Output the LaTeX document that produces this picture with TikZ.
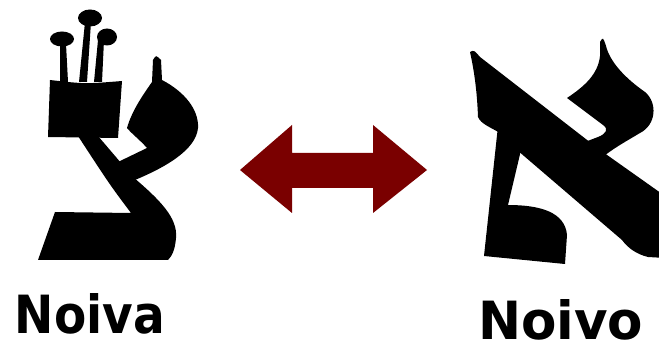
\documentclass[tikz,border=0pt]{standalone}
\usepackage{fontspec}
\usepackage{graphicx}
\newfontfamily\lblfont{DejaVu Sans}
\definecolor{arrowred}{RGB}{122,0,0}
\tikzset{
  glyph/.style={fill=black},
  lbl/.style={inner sep=0pt, outer sep=0pt, anchor=base west}
}
\begin{document}
\begin{tikzpicture}[x=1pt,y=-1pt]
\useasboundingbox (0,0) rectangle (659,347);
\fill[white] (0,0) rectangle (659,347);
\begin{scope}
\clip (0,0) rectangle (659,347);
% ---------- Tsade (left) ----------
% crowns
\fill[glyph] (62,39) ellipse [x radius=12, y radius=7.5];
\fill[glyph] (90,18) ellipse [x radius=12, y radius=8.5];
\fill[glyph] (107,37) ellipse [x radius=10, y radius=8.5];
\fill[glyph] (60,44) -- (66,44) -- (68,82) -- (60,82) -- cycle;
\fill[glyph] (85,22) -- (91,22) -- (87,82) -- (79,82) -- cycle;
\fill[glyph] (98,40) -- (104,40) -- (102,82) -- (94,82) -- cycle;
% head block
\fill[glyph] (50,80) .. controls (85,84) .. (122,81) -- (118,138) -- (48,137) -- cycle;
% body and base
\fill[glyph] (78,136) -- (98,136) -- (133,177)
  .. controls (160,200) and (178,218) .. (176,238)
  .. controls (175,250) and (172,256) .. (168,260)
  -- (38,260) -- (55,212) -- (131,213)
  .. controls (110,185) .. (78,136) -- cycle;
% right arm
\fill[glyph] (153,60) .. controls (156,55) .. (161,60) -- (162,80)
  .. controls (185,92) and (199,110) .. (198,128)
  .. controls (196,150) and (165,168) .. (130,182)
  -- (118,162) -- (147,148)
  .. controls (140,140) and (132,134) .. (127,128)
  .. controls (132,110) and (145,92) .. (152,82) -- cycle;
% ---------- Aleph (right) ----------
% diagonal with head
\fill[glyph] (470,52) .. controls (474,50) .. (480,57)
  -- (600,150) -- (665,196) -- (665,258) -- (648,257)
  .. controls (636,254) and (628,248) .. (622,240)
  -- (517,150) -- (500,133)
  .. controls (490,127) and (481,124) .. (478,117)
  .. controls (477,90) and (474,70) .. (470,52) -- cycle;
% left leg and foot
\fill[glyph] (498,126) -- (521,150) -- (508,205)
  .. controls (540,205) and (565,212) .. (567,235)
  -- (565,264) -- (484,256) -- cycle;
% right arm
\fill[glyph] (600,42) .. controls (603,37) .. (606,46)
  .. controls (610,62) and (625,78) .. (645,92)
  .. controls (658,103) and (656,125) .. (640,133)
  .. controls (625,142) and (610,150) .. (597,162)
  -- (585,142) -- (598,137)
  .. controls (606,134) and (609,129) .. (603,125)
  -- (567,98)
  .. controls (585,86) and (598,74) .. (600,56) -- cycle;
\end{scope}
% ---------- double arrow ----------
\fill[arrowred] (240,170) -- (292,125) -- (292,153) -- (373,153) -- (373,125)
  -- (427,170) -- (373,213) -- (373,188) -- (292,188) -- (292,213) -- cycle;
% ---------- labels ----------
\node[lbl] (noiva) at (15,334) {\resizebox{150pt}{40pt}{\lblfont\bfseries Noiva}};
\node[lbl] (noivo) at (478,340) {\resizebox{165pt}{40pt}{\lblfont\bfseries Noivo}};
\end{tikzpicture}
\end{document}
